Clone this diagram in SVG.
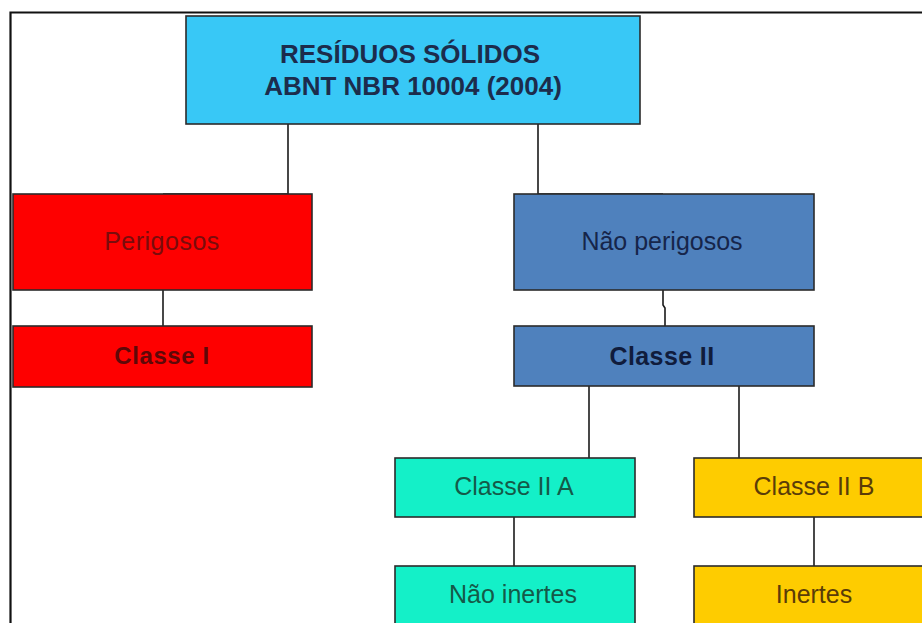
<svg xmlns="http://www.w3.org/2000/svg" width="922" height="623" viewBox="0 0 922 623">
<style>
.box{stroke:#2b2b2b;stroke-width:1.6}
.lbl{font-family:"Liberation Sans",Arial,sans-serif;font-size:25px;text-anchor:middle}
.b{font-weight:bold}
.conn{fill:none;stroke:#1a1a1a;stroke-width:1.6}
</style>
<rect width="922" height="623" fill="#ffffff"/>
<path d="M10.5,623 V12.5 H922" fill="none" stroke="#111" stroke-width="2.2"/>
<g id="connectors" class="conn">
<path d="M288,124 V194 H163"/>
<path d="M538,124 V194 H663"/>
<path d="M163,290 V326"/>
<path d="M663,290 V305 L665,308 V326"/>
<path d="M589,386 V458"/>
<path d="M739,386 V458"/>
<path d="M514,517 V566"/>
<path d="M814,517 V566"/>
</g>
<g id="root">
<rect class="box" x="186" y="16" width="454" height="108" fill="#38c8f6"/>
<text class="lbl b" x="410" y="63" fill="#1c2c4c" style="font-size:26px">RESÍDUOS SÓLIDOS</text>
<text class="lbl b" x="413" y="95" fill="#1c2c4c" style="font-size:26px">ABNT NBR 10004 (2004)</text>
</g>
<g id="perigosos">
<rect class="box" x="13" y="194" width="299" height="96" fill="#fe0000"/>
<text class="lbl" x="162" y="250" fill="#7a0c0c" letter-spacing="0.5">Perigosos</text>
</g>
<g id="classe1">
<rect class="box" x="13" y="326" width="299" height="61" fill="#fe0000"/>
<text class="lbl b" x="162" y="364" fill="#5e0808" style="font-size:24px" letter-spacing="0.6">Classe I</text>
</g>
<g id="naoperigosos">
<rect class="box" x="514" y="194" width="300" height="96" fill="#4f81bd"/>
<text class="lbl" x="662" y="250" fill="#16254a">Não perigosos</text>
</g>
<g id="classe2">
<rect class="box" x="514" y="326" width="300" height="60" fill="#4f81bd"/>
<text class="lbl b" x="662" y="365" fill="#101c3c" letter-spacing="0.4">Classe II</text>
</g>
<g id="classe2a">
<rect class="box" x="395" y="458" width="240" height="59" fill="#14f0c8"/>
<text class="lbl" x="514" y="495" fill="#145a48">Classe II A</text>
</g>
<g id="classe2b">
<rect class="box" x="694" y="458" width="240" height="59" fill="#fecc00"/>
<text class="lbl" x="814" y="495" fill="#5a3c08">Classe II B</text>
</g>
<g id="naoinertes">
<rect class="box" x="395" y="566" width="240" height="70" fill="#14f0c8"/>
<text class="lbl" x="513" y="603" fill="#145a48">Não inertes</text>
</g>
<g id="inertes">
<rect class="box" x="694" y="566" width="240" height="70" fill="#fecc00"/>
<text class="lbl" x="814" y="603" fill="#5a3c08">Inertes</text>
</g>
</svg>
